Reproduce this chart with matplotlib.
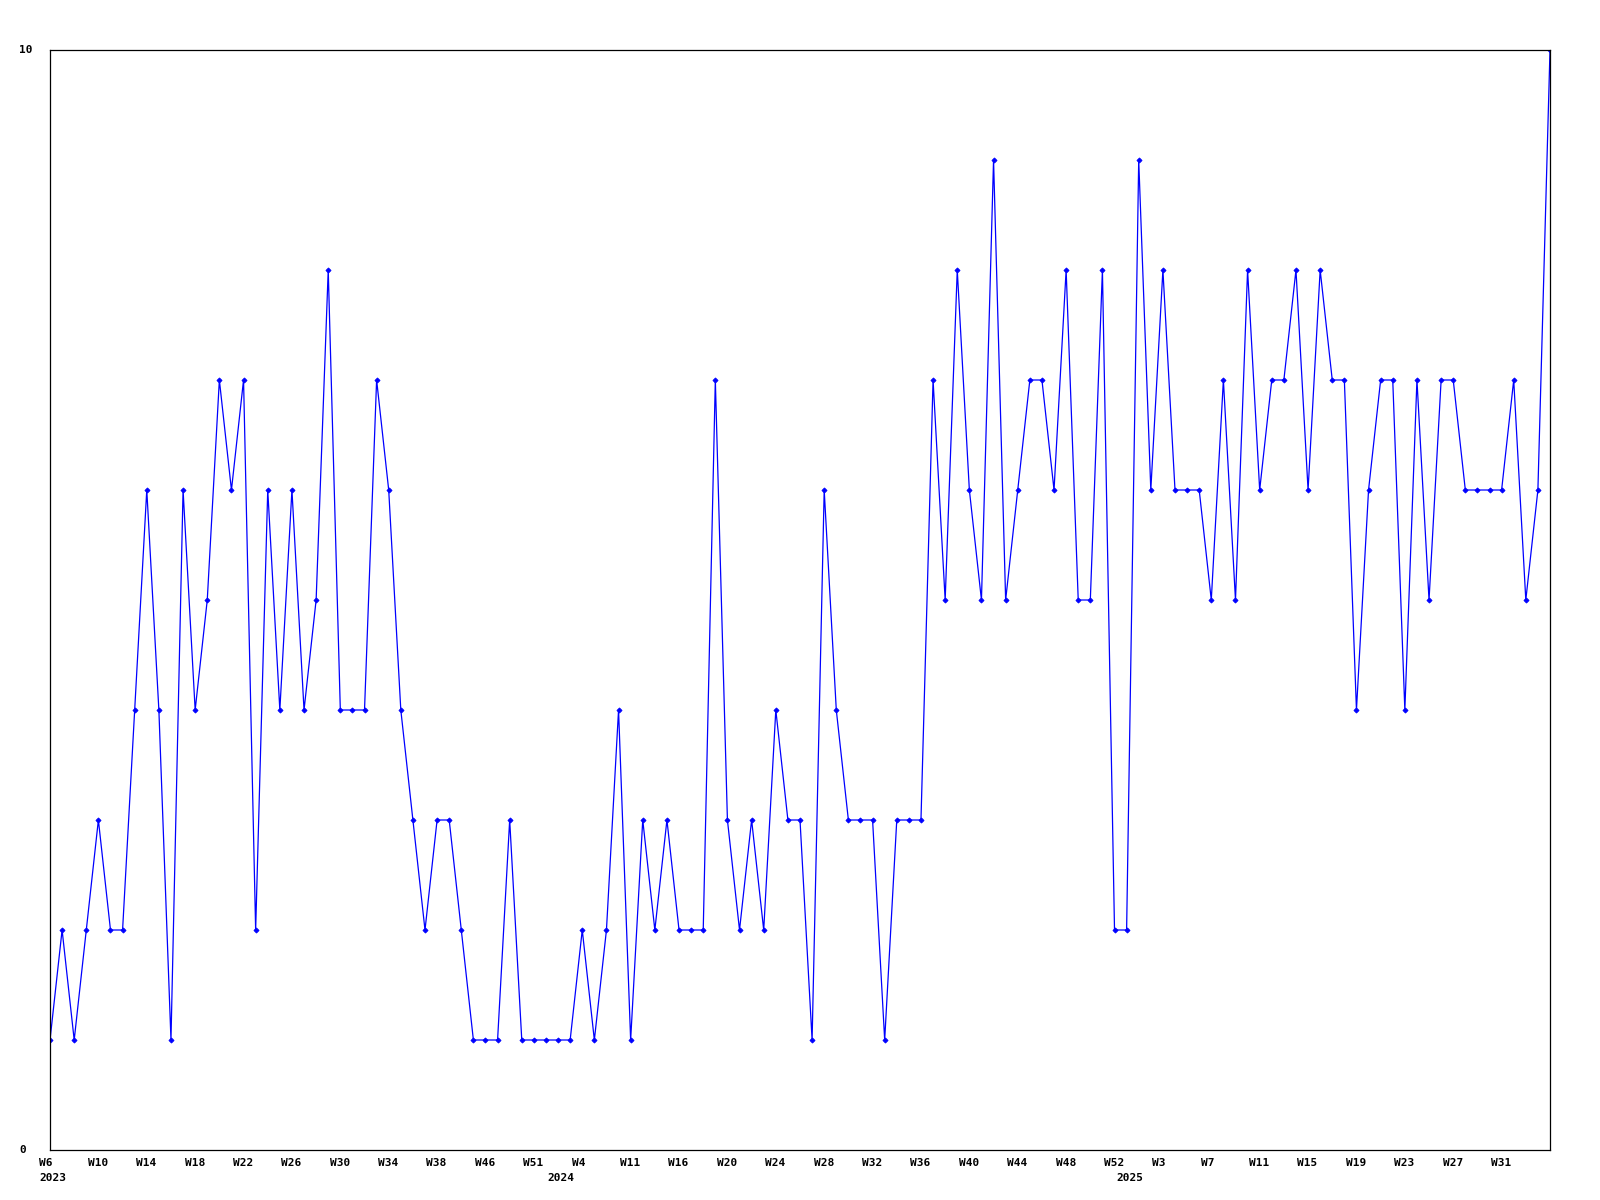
import matplotlib
matplotlib.use("Agg")
import matplotlib.pyplot as plt
from matplotlib import transforms

values = [1, 2, 1, 2, 3, 2, 2, 4, 6, 4,
          1, 6, 4, 5, 7, 6, 7, 2, 6, 4,
          6, 4, 5, 8, 4, 4, 4, 7, 6, 4,
          3, 2, 3, 3, 2, 1, 1, 1, 3, 1,
          1, 1, 1, 1, 2, 1, 2, 4, 1, 3,
          2, 3, 2, 2, 2, 7, 3, 2, 3, 2,
          4, 3, 3, 1, 6, 4, 3, 3, 3, 1,
          3, 3, 3, 7, 5, 8, 6, 5, 9, 5,
          6, 7, 7, 6, 8, 5, 5, 8, 2, 2,
          9, 6, 8, 6, 6, 6, 5, 7, 5, 8,
          6, 7, 7, 8, 6, 8, 7, 7, 4, 6,
          7, 7, 4, 7, 5, 7, 7, 6, 6, 6,
          6, 7, 5, 6, 10]

tick_labels = ["W6", "W10", "W14", "W18", "W22", "W26", "W30", "W34", "W38",
               "W46", "W51", "W4", "W11", "W16", "W20", "W24", "W28", "W32",
               "W36", "W40", "W44", "W48", "W52", "W3", "W7", "W11", "W15",
               "W19", "W23", "W27", "W31"]
tick_step = 4

year_labels = ["2023", "2024", "2025"]
year_start_index = [0, 42, 89]

y_labels = ["0", "10"]

fig = plt.figure(figsize=(16, 12), dpi=100)
ax = fig.add_axes([50 / 1600, 50 / 1200, 1500 / 1600, 1100 / 1200])

x = list(range(len(values)))
ax.plot(x, values, color="#0000FF", linewidth=0.9, marker="D",
        markersize=2.6, markeredgewidth=0.6, markerfacecolor="#0000FF",
        markeredgecolor="#0000FF")

ax.set_xlim(0, len(values) - 1)
ax.set_ylim(0, 10)
ax.set_xticks([])
ax.set_yticks([])
for s in ax.spines.values():
    s.set_color("black")
    s.set_linewidth(0.9)

font = dict(family="DejaVu Sans Mono", fontweight="bold", fontsize=8)

tr_week = transforms.offset_copy(ax.get_xaxis_transform(), fig=fig,
                                 x=-10.6, y=-8, units="dots")
for k, lab in enumerate(tick_labels):
    ax.text(k * tick_step, 0, lab, transform=tr_week, ha="left", va="top",
            clip_on=False, **font)

tr_year = transforms.offset_copy(ax.get_xaxis_transform(), fig=fig,
                                 x=-10.6, y=-23, units="dots")
for lab, idx in zip(year_labels, year_start_index):
    ax.text(idx, 0, lab, transform=tr_year, ha="left", va="top",
            clip_on=False, **font)

tr_y = transforms.blended_transform_factory(fig.transFigure, ax.transData)
for lab in y_labels:
    fig.text(19.5 / 1600, float(lab), lab, transform=tr_y, ha="left",
             va="center", **font)

fig.savefig("out.png", dpi=100, facecolor="white")
